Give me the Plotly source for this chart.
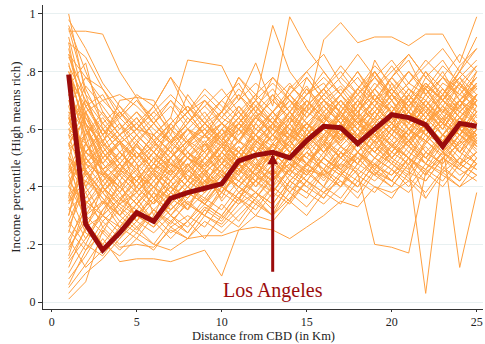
import plotly.graph_objects as go

distance_km = list(range(1, 26))

los_angeles = [0.79, 0.27, 0.18, 0.24, 0.31, 0.28, 0.36, 0.38, 0.395, 0.41, 0.49, 0.51, 0.52,
               0.50, 0.56, 0.61, 0.605, 0.55, 0.60, 0.65, 0.64, 0.615, 0.54, 0.62, 0.61]

other_cities = [
    [0.94,0.94,0.93,0.80,0.71,0.62,0.55,0.60,0.52,0.58,0.62,0.55,0.60,0.66,0.58,0.63,0.70,0.62,0.66,0.72,0.64,0.68,0.60,0.70,0.66],
    [1.00,0.72,0.55,0.48,0.42,0.50,0.44,0.52,0.47,0.55,0.50,0.58,0.52,0.60,0.55,0.62,0.57,0.65,0.58,0.63,0.70,0.62,0.67,0.60,0.72],
    [0.01,0.07,0.25,0.19,0.20,0.19,0.25,0.22,0.23,0.23,0.25,0.26,0.25,0.22,0.26,0.30,0.35,0.33,0.40,0.38,0.42,0.36,0.45,0.40,0.44],
    [0.05,0.13,0.22,0.14,0.15,0.15,0.14,0.16,0.18,0.09,0.25,0.30,0.28,0.35,0.30,0.38,0.42,0.36,0.45,0.40,0.48,0.42,0.50,0.46,0.52],
    [0.62,0.70,0.58,0.65,0.72,0.68,0.78,0.70,0.62,0.66,0.78,0.70,0.96,0.80,0.72,0.76,0.68,0.74,0.80,0.70,0.76,0.72,0.78,0.70,0.75],
    [0.80,0.60,0.50,0.55,0.60,0.58,0.64,0.84,0.83,0.82,0.70,0.83,0.68,0.99,0.88,0.80,0.72,0.78,0.70,0.74,0.68,0.75,0.70,0.78,0.72],
    [0.45,0.52,0.48,0.55,0.50,0.58,0.52,0.60,0.57,0.62,0.58,0.66,0.62,0.70,0.66,0.91,0.97,0.90,0.92,0.92,0.89,0.93,0.93,0.83,0.99],
    [0.35,0.42,0.38,0.45,0.40,0.48,0.44,0.50,0.47,0.54,0.50,0.56,0.52,0.58,0.55,0.60,0.56,0.62,0.58,0.55,0.47,0.03,0.50,0.55,0.58],
    [0.55,0.48,0.40,0.46,0.42,0.50,0.45,0.52,0.48,0.55,0.52,0.58,0.54,0.60,0.57,0.62,0.58,0.64,0.60,0.66,0.62,0.58,0.55,0.12,0.38],
    [0.40,0.35,0.30,0.36,0.32,0.40,0.36,0.42,0.38,0.45,0.42,0.48,0.44,0.50,0.46,0.44,0.48,0.45,0.20,0.19,0.17,0.45,0.50,0.46,0.52],
    [0.88,0.62,0.55,0.70,0.71,0.70,0.60,0.66,0.58,0.62,0.55,0.64,0.60,0.57,0.66,0.62,0.70,0.64,0.60,0.68,0.62,0.72,0.66,0.70,0.64],
    [0.75,0.83,0.60,0.52,0.45,0.38,0.50,0.42,0.55,0.48,0.60,0.52,0.47,0.58,0.62,0.55,0.66,0.60,0.72,0.65,0.58,0.70,0.63,0.68,0.74],
    [0.92,0.68,0.72,0.62,0.50,0.56,0.48,0.45,0.52,0.60,0.56,0.50,0.62,0.58,0.70,0.64,0.58,0.66,0.74,0.68,0.62,0.75,0.70,0.66,0.72],
    [0.20,0.35,0.30,0.42,0.28,0.35,0.40,0.32,0.45,0.38,0.50,0.44,0.40,0.52,0.47,0.55,0.50,0.58,0.52,0.48,0.56,0.60,0.54,0.62,0.58],
    [0.30,0.55,0.45,0.38,0.48,0.30,0.42,0.50,0.44,0.36,0.48,0.55,0.50,0.45,0.60,0.52,0.57,0.64,0.55,0.60,0.66,0.58,0.63,0.56,0.65],
    [0.65,0.45,0.38,0.30,0.36,0.42,0.35,0.48,0.40,0.52,0.46,0.42,0.55,0.50,0.45,0.58,0.64,0.55,0.62,0.70,0.60,0.66,0.58,0.64,0.60],
    [0.15,0.25,0.40,0.33,0.28,0.38,0.30,0.36,0.44,0.40,0.35,0.47,0.42,0.50,0.45,0.40,0.52,0.48,0.56,0.50,0.46,0.55,0.62,0.52,0.58],
    [0.58,0.40,0.52,0.45,0.55,0.48,0.62,0.55,0.50,0.60,0.66,0.58,0.52,0.64,0.70,0.62,0.57,0.68,0.63,0.76,0.66,0.60,0.72,0.67,0.80],
    [0.40,0.60,0.48,0.56,0.38,0.46,0.54,0.42,0.50,0.58,0.48,0.62,0.56,0.66,0.60,0.54,0.68,0.62,0.57,0.64,0.72,0.66,0.60,0.70,0.64],
    [0.70,0.50,0.42,0.35,0.44,0.40,0.32,0.38,0.46,0.35,0.42,0.50,0.38,0.47,0.55,0.44,0.52,0.48,0.60,0.54,0.50,0.58,0.52,0.47,0.56],
    [0.25,0.18,0.28,0.22,0.30,0.26,0.34,0.28,0.36,0.32,0.40,0.35,0.30,0.42,0.38,0.46,0.40,0.52,0.45,0.42,0.50,0.46,0.55,0.48,0.52],
    [0.85,0.72,0.65,0.58,0.62,0.55,0.50,0.58,0.64,0.56,0.68,0.62,0.72,0.66,0.60,0.70,0.75,0.68,0.80,0.72,0.66,0.78,0.84,0.75,0.70],
    [0.48,0.30,0.35,0.26,0.32,0.28,0.38,0.34,0.30,0.40,0.36,0.45,0.40,0.35,0.48,0.43,0.50,0.46,0.54,0.49,0.45,0.56,0.51,0.58,0.53],
    [0.35,0.48,0.55,0.50,0.58,0.52,0.46,0.54,0.62,0.57,0.52,0.60,0.66,0.58,0.54,0.64,0.60,0.70,0.64,0.58,0.68,0.74,0.65,0.60,0.70],
    [0.60,0.66,0.50,0.44,0.38,0.45,0.52,0.46,0.40,0.48,0.56,0.50,0.58,0.64,0.56,0.50,0.62,0.57,0.66,0.60,0.72,0.64,0.58,0.66,0.62],
    [0.10,0.20,0.32,0.38,0.30,0.36,0.42,0.34,0.40,0.46,0.38,0.44,0.50,0.42,0.48,0.55,0.47,0.52,0.60,0.50,0.56,0.48,0.58,0.52,0.62],
    [0.72,0.58,0.64,0.56,0.62,0.68,0.58,0.72,0.64,0.70,0.76,0.66,0.72,0.62,0.78,0.70,0.64,0.74,0.68,0.78,0.84,0.72,0.66,0.76,0.82],
    [0.52,0.36,0.44,0.40,0.34,0.28,0.36,0.32,0.42,0.38,0.46,0.40,0.48,0.44,0.52,0.48,0.44,0.50,0.56,0.62,0.54,0.50,0.58,0.64,0.55],
    [0.96,0.80,0.66,0.58,0.52,0.46,0.55,0.50,0.44,0.52,0.47,0.56,0.50,0.58,0.53,0.60,0.65,0.58,0.52,0.60,0.66,0.62,0.70,0.64,0.60],
    [0.28,0.42,0.36,0.30,0.40,0.34,0.46,0.52,0.45,0.50,0.44,0.55,0.62,0.52,0.58,0.65,0.56,0.62,0.58,0.66,0.60,0.68,0.63,0.74,0.66],
    [0.45,0.55,0.62,0.68,0.60,0.54,0.60,0.66,0.58,0.52,0.62,0.68,0.60,0.75,0.70,0.64,0.72,0.80,0.70,0.66,0.74,0.68,0.76,0.72,0.80],
    [0.18,0.30,0.24,0.35,0.42,0.36,0.30,0.38,0.34,0.42,0.48,0.40,0.46,0.38,0.44,0.50,0.45,0.40,0.48,0.42,0.50,0.45,0.40,0.48,0.44],
    [0.66,0.52,0.46,0.50,0.44,0.52,0.58,0.50,0.55,0.46,0.52,0.58,0.64,0.56,0.62,0.57,0.64,0.70,0.62,0.56,0.64,0.58,0.66,0.72,0.68],
    [0.82,0.70,0.58,0.48,0.55,0.62,0.56,0.50,0.58,0.54,0.60,0.56,0.52,0.62,0.68,0.74,0.65,0.60,0.68,0.62,0.70,0.64,0.72,0.78,0.68],
    [0.38,0.24,0.20,0.28,0.24,0.32,0.26,0.22,0.30,0.27,0.34,0.38,0.32,0.40,0.36,0.45,0.52,0.44,0.50,0.46,0.42,0.52,0.48,0.56,0.50],
    [0.55,0.64,0.56,0.62,0.54,0.48,0.56,0.62,0.70,0.62,0.56,0.64,0.58,0.66,0.74,0.65,0.60,0.68,0.76,0.70,0.64,0.72,0.80,0.70,0.76],
    [0.42,0.50,0.42,0.48,0.55,0.45,0.40,0.47,0.53,0.60,0.52,0.46,0.55,0.62,0.54,0.60,0.66,0.57,0.63,0.58,0.66,0.60,0.54,0.62,0.57],
    [0.08,0.16,0.26,0.32,0.26,0.20,0.28,0.24,0.32,0.28,0.36,0.30,0.38,0.34,0.42,0.36,0.44,0.40,0.48,0.42,0.38,0.46,0.52,0.46,0.42],
    [0.76,0.55,0.48,0.42,0.36,0.44,0.38,0.46,0.52,0.44,0.40,0.48,0.55,0.50,0.44,0.52,0.58,0.52,0.47,0.55,0.50,0.60,0.54,0.48,0.57],
    [0.50,0.45,0.38,0.44,0.50,0.58,0.52,0.47,0.55,0.62,0.56,0.65,0.58,0.52,0.60,0.68,0.62,0.56,0.64,0.70,0.62,0.67,0.60,0.68,0.75],
    [0.32,0.38,0.45,0.40,0.34,0.42,0.48,0.44,0.38,0.46,0.54,0.47,0.42,0.50,0.58,0.52,0.46,0.55,0.62,0.54,0.60,0.55,0.62,0.58,0.66],
    [0.62,0.75,0.68,0.60,0.66,0.58,0.52,0.60,0.55,0.62,0.68,0.60,0.66,0.72,0.64,0.70,0.62,0.68,0.74,0.66,0.72,0.80,0.70,0.76,0.68],
    [0.22,0.12,0.18,0.26,0.22,0.30,0.24,0.28,0.22,0.30,0.26,0.34,0.30,0.38,0.33,0.40,0.36,0.44,0.40,0.36,0.45,0.42,0.50,0.44,0.48],
    [0.90,0.60,0.44,0.52,0.46,0.40,0.48,0.42,0.50,0.45,0.52,0.47,0.55,0.62,0.54,0.60,0.55,0.63,0.58,0.52,0.60,0.56,0.64,0.58,0.63],
    [0.44,0.28,0.34,0.45,0.52,0.46,0.42,0.50,0.46,0.40,0.48,0.54,0.49,0.44,0.52,0.58,0.50,0.55,0.50,0.58,0.54,0.62,0.56,0.50,0.60],
    [0.58,0.52,0.58,0.64,0.70,0.62,0.68,0.60,0.66,0.58,0.64,0.70,0.62,0.68,0.75,0.66,0.72,0.64,0.70,0.78,0.72,0.66,0.74,0.68,0.76],
    [0.12,0.26,0.35,0.30,0.25,0.32,0.28,0.34,0.30,0.26,0.32,0.38,0.34,0.42,0.38,0.34,0.40,0.46,0.42,0.48,0.43,0.38,0.46,0.42,0.50],
    [0.68,0.48,0.54,0.46,0.40,0.48,0.44,0.38,0.45,0.50,0.45,0.52,0.58,0.52,0.48,0.55,0.62,0.57,0.52,0.60,0.66,0.58,0.52,0.60,0.55],
    [0.36,0.66,0.52,0.58,0.64,0.56,0.50,0.56,0.62,0.55,0.60,0.66,0.58,0.54,0.62,0.68,0.62,0.56,0.64,0.72,0.64,0.70,0.62,0.58,0.66],
    [0.26,0.40,0.30,0.24,0.30,0.38,0.34,0.40,0.36,0.44,0.40,0.36,0.43,0.48,0.44,0.50,0.45,0.52,0.47,0.44,0.52,0.48,0.45,0.50,0.46],
    [0.50,0.40,0.46,0.38,0.44,0.36,0.42,0.48,0.42,0.38,0.45,0.50,0.44,0.48,0.42,0.50,0.46,0.52,0.48,0.54,0.50,0.36,None,None,None],
    [0.80,0.66,0.70,0.64,0.58,0.64,0.70,0.62,0.68,0.74,0.66,0.72,0.78,0.70,0.64,0.72,0.78,0.72,0.66,0.74,0.80,0.72,0.78,0.74,0.82],
    [0.46,0.58,0.40,0.34,0.40,0.46,0.40,0.45,0.50,0.56,0.50,0.44,0.52,0.46,0.54,0.60,0.54,0.48,0.56,0.62,0.56,0.64,0.58,0.55,0.62],
    [0.33,0.22,0.32,0.40,0.46,0.40,0.35,0.42,0.38,0.44,0.50,0.44,0.38,0.46,0.52,0.46,0.54,0.50,0.44,0.52,0.58,0.50,0.56,0.60,0.54],
    [0.70,0.62,0.54,0.60,0.66,0.60,0.55,0.64,0.58,0.66,0.72,0.64,0.70,0.64,0.60,0.66,0.72,0.80,0.72,0.66,0.74,0.68,0.62,0.70,0.78],
    [0.55,0.34,0.28,0.34,0.30,0.26,0.32,0.38,0.34,0.30,0.38,0.42,0.36,0.44,0.40,0.46,0.42,0.38,0.46,0.42,0.50,0.44,0.52,0.48,0.44],
    [0.95,0.74,0.62,0.56,0.50,0.58,0.64,0.56,0.60,0.54,0.62,0.58,0.64,0.70,0.62,0.68,0.74,0.66,0.72,0.66,0.60,0.68,0.74,0.66,0.72],
    [0.16,0.34,0.42,0.48,0.42,0.50,0.45,0.40,0.48,0.54,0.48,0.56,0.50,0.55,0.62,0.56,0.50,0.58,0.64,0.58,0.66,0.60,0.55,0.64,0.70],
    [0.64,0.44,0.50,0.56,0.48,0.42,0.50,0.56,0.52,0.58,0.64,0.56,0.62,0.56,0.68,0.62,0.56,0.64,0.70,0.62,0.58,0.66,0.72,0.64,0.58],
    [0.03,0.10,0.15,0.22,0.28,0.24,0.30,0.26,0.33,0.29,0.36,0.32,0.40,0.35,0.42,0.38,0.45,0.40,0.48,0.44,0.50,0.46,0.42,0.50,0.46],
    [0.60,0.48,0.44,0.50,0.56,0.62,0.55,0.62,0.70,0.64,0.72,0.66,0.78,0.72,0.66,0.74,0.82,0.75,0.70,0.78,0.86,0.78,0.72,0.80,0.88],
    [0.40,0.52,0.60,0.55,0.48,0.55,0.62,0.68,0.60,0.66,0.74,0.68,0.62,0.72,0.80,0.86,0.76,0.70,0.78,0.84,0.76,0.82,0.88,0.80,0.74],
    [0.78,0.62,0.46,0.40,0.46,0.52,0.47,0.55,0.60,0.55,0.50,0.58,0.66,0.60,0.55,0.62,0.70,0.64,0.84,0.74,0.68,0.76,0.70,0.80,0.92],
    [0.24,0.46,0.38,0.46,0.52,0.44,0.50,0.56,0.48,0.54,0.46,0.52,0.58,0.66,0.74,0.68,0.62,0.70,0.64,0.72,0.80,0.74,0.66,0.62,0.72],
    [0.58,0.70,0.62,0.55,0.60,0.68,0.78,0.66,0.72,0.66,0.78,0.72,0.66,0.74,0.80,0.72,0.78,0.86,0.78,0.72,0.80,0.74,0.82,0.76,0.70],
    [0.86,0.78,0.70,0.72,0.68,0.62,0.70,0.64,0.58,0.66,0.60,0.68,0.74,0.66,0.72,0.80,0.72,0.66,0.74,0.82,0.74,0.70,0.78,0.86,0.80],
    [0.57,0.62,0.48,0.42,0.50,0.44,0.38,0.46,0.41,0.50,0.56,0.62,0.55,0.50,0.58,0.66,0.60,0.54,0.62,0.68,0.60,0.56,0.64,0.70,0.62],
    [0.83,0.56,0.40,0.30,0.36,0.28,0.34,0.40,0.35,0.42,0.48,0.42,0.50,0.56,0.48,0.54,0.60,0.52,0.58,0.64,0.56,0.62,0.68,0.60,0.55],
    [0.47,0.38,0.26,0.20,0.26,0.32,0.27,0.35,0.30,0.38,0.34,0.42,0.46,0.40,0.48,0.54,0.46,0.52,0.58,0.50,0.56,0.62,0.54,0.60,0.66],
    [0.68,0.78,0.74,0.66,0.58,0.52,0.60,0.55,0.62,0.70,0.64,0.58,0.66,0.72,0.78,0.70,0.64,0.72,0.80,0.72,0.68,0.76,0.70,0.78,0.84],
    [0.34,0.46,0.52,0.44,0.38,0.45,0.36,0.42,0.48,0.43,0.52,0.58,0.50,0.56,0.50,0.58,0.64,0.58,0.52,0.60,0.55,0.62,0.68,0.62,0.56],
    [0.19,0.28,0.20,0.16,0.22,0.18,0.26,0.30,0.26,0.34,0.28,0.36,0.44,0.38,0.46,0.40,0.48,0.55,0.46,0.52,0.48,0.56,0.50,0.58,0.54],
    [0.62,0.52,0.60,0.52,0.46,0.54,0.60,0.52,0.58,0.64,0.60,0.68,0.62,0.56,0.64,0.70,0.66,0.74,0.68,0.62,0.70,0.76,0.70,0.64,0.72],
    [0.50,0.66,0.56,0.48,0.42,0.36,0.44,0.50,0.56,0.48,0.44,0.52,0.60,0.54,0.62,0.56,0.50,0.58,0.66,0.60,0.54,0.62,0.70,0.64,0.58],
    [0.74,0.46,0.34,0.40,0.34,0.40,0.46,0.40,0.34,0.42,0.48,0.44,0.52,0.46,0.42,0.50,0.56,0.62,0.55,0.50,0.58,0.64,0.58,0.52,0.60],
    [0.28,0.20,0.16,0.24,0.30,0.36,0.30,0.24,0.32,0.38,0.44,0.38,0.34,0.42,0.48,0.44,0.40,0.48,0.54,0.48,0.44,0.52,0.58,0.52,0.48],
    [0.90,0.85,0.74,0.64,0.70,0.64,0.56,0.62,0.68,0.62,0.56,0.64,0.70,0.76,0.68,0.74,0.80,0.72,0.78,0.70,0.76,0.84,0.78,0.72,0.78],
    [0.40,0.30,0.40,0.48,0.40,0.34,0.40,0.36,0.42,0.48,0.42,0.38,0.45,0.52,0.48,0.42,0.50,0.56,0.50,0.46,0.54,0.48,0.56,0.62,0.54],
    [0.53,0.58,0.66,0.58,0.64,0.56,0.62,0.68,0.62,0.56,0.64,0.72,0.66,0.60,0.68,0.74,0.68,0.62,0.70,0.78,0.70,0.64,0.72,0.80,0.74],
    [0.14,0.22,0.30,0.26,0.34,0.28,0.22,0.28,0.34,0.30,0.38,0.34,0.40,0.46,0.40,0.36,0.44,0.50,0.44,0.40,0.48,0.54,0.47,0.42,0.50],
    [0.64,0.50,0.44,0.36,0.42,0.48,0.42,0.48,0.42,0.48,0.54,0.48,0.44,0.52,0.58,0.52,0.60,0.66,0.58,0.52,0.60,0.56,0.64,0.58,0.66],
    [0.78,0.68,0.58,0.66,0.60,0.66,0.72,0.66,0.74,0.68,0.62,0.70,0.76,0.70,0.64,0.72,0.66,0.74,0.82,0.76,0.70,0.80,0.74,0.68,0.76],
    [0.42,0.34,0.40,0.34,0.38,0.32,0.38,0.44,0.40,0.46,0.40,0.46,0.52,0.46,0.54,0.48,0.44,0.52,0.46,0.54,0.60,0.52,0.48,0.56,0.62],
    [0.30,0.50,0.56,0.62,0.56,0.50,0.56,0.50,0.46,0.54,0.60,0.54,0.48,0.56,0.62,0.56,0.64,0.58,0.66,0.60,0.56,0.64,0.58,0.66,0.72],
    [0.86,0.64,0.52,0.46,0.54,0.48,0.54,0.60,0.54,0.60,0.66,0.60,0.56,0.62,0.70,0.64,0.58,0.66,0.72,0.66,0.74,0.68,0.62,0.70,0.76],
    [0.06,0.18,0.24,0.18,0.24,0.20,0.18,0.22,0.28,0.24,0.30,0.36,0.30,0.36,0.42,0.38,0.34,0.42,0.38,0.46,0.40,0.48,0.44,0.40,0.48],
    [0.60,0.55,0.46,0.52,0.58,0.52,0.46,0.52,0.46,0.52,0.58,0.64,0.58,0.52,0.58,0.64,0.70,0.62,0.68,0.62,0.58,0.66,0.60,0.68,0.62],
    [0.46,0.42,0.50,0.56,0.50,0.54,0.48,0.54,0.58,0.50,0.56,0.52,0.58,0.64,0.58,0.52,0.60,0.66,0.60,0.54,0.62,0.70,0.64,0.58,0.68],
    [0.72,0.62,0.54,0.46,0.40,0.34,0.40,0.36,0.42,0.48,0.52,0.46,0.54,0.48,0.56,0.62,0.54,0.60,0.54,0.62,0.68,0.60,0.56,0.64,0.70],
    [0.37,0.44,0.36,0.28,0.34,0.40,0.46,0.40,0.46,0.40,0.46,0.52,0.48,0.54,0.50,0.46,0.54,0.60,0.56,0.62,0.56,0.50,0.58,0.54,0.60],
    [0.54,0.68,0.60,0.66,0.60,0.66,0.60,0.66,0.70,0.64,0.70,0.76,0.70,0.64,0.72,0.78,0.72,0.66,0.74,0.80,0.86,0.78,0.72,0.82,0.88],
    [0.22,0.32,0.38,0.32,0.38,0.44,0.38,0.32,0.38,0.44,0.40,0.46,0.42,0.48,0.44,0.50,0.46,0.42,0.50,0.56,0.50,0.44,0.52,0.58,0.52],
    [0.66,0.60,0.52,0.58,0.52,0.46,0.50,0.56,0.62,0.56,0.62,0.56,0.62,0.68,0.62,0.58,0.66,0.60,0.68,0.74,0.66,0.60,0.68,0.62,0.70],
    [0.50,0.26,0.30,0.36,0.30,0.36,0.32,0.38,0.34,0.40,0.36,0.42,0.38,0.46,0.52,0.46,0.40,0.48,0.44,0.50,0.56,0.50,0.46,0.54,0.48],
    [0.98,0.88,0.76,0.68,0.62,0.56,0.62,0.68,0.62,0.56,0.62,0.70,0.64,0.58,0.66,0.72,0.66,0.72,0.78,0.72,0.66,0.74,0.68,0.76,0.70],
    [0.44,0.52,0.46,0.52,0.46,0.52,0.46,0.40,0.46,0.52,0.46,0.40,0.48,0.54,0.48,0.56,0.52,0.58,0.52,0.58,0.52,0.60,0.54,0.60,0.56],
]

y_tick_vals = [0, 0.2, 0.4, 0.6, 0.8, 1]
y_tick_text = ["0", ".2", ".4", ".6", ".8", "1"]
x_tick_vals = [0, 5, 10, 15, 20, 25]

FONT = "Liberation Serif"
ORANGE = "#ffa040"
DARKRED = "#9b0c0c"

fig = go.Figure()
for series in other_cities:
    fig.add_trace(go.Scatter(x=distance_km, y=series, mode="lines",
                             line=dict(color=ORANGE, width=1), connectgaps=False,
                             hoverinfo="skip", showlegend=False))

fig.add_trace(go.Scatter(x=distance_km, y=los_angeles, mode="lines",
                         line=dict(color=DARKRED, width=5), showlegend=False))

fig.add_annotation(x=13, y=0.515, ax=13, ay=0.10, xref="x", yref="y", axref="x", ayref="y",
                   showarrow=True, arrowhead=2, arrowsize=0.7, arrowwidth=3, arrowcolor=DARKRED,
                   text="")
fig.add_annotation(x=13, y=0.04, xref="x", yref="y", text="Los Angeles", showarrow=False,
                   font=dict(family=FONT, size=20, color=DARKRED))

fig.add_annotation(x=0.5, y=-0.0872, xref="paper", yref="paper", yanchor="middle",
                   text="Distance from CBD (in Km)", showarrow=False,
                   font=dict(family=FONT, size=12.5, color="#222"))
fig.add_annotation(x=-0.064, y=0.5, xref="paper", yref="paper", xanchor="center",
                   yanchor="middle", textangle=-90,
                   text="Income percentile (High means rich)", showarrow=False,
                   font=dict(family=FONT, size=13, color="#222"))

fig.update_layout(
    width=485, height=344,
    margin=dict(l=43, r=2, t=5, b=35),
    paper_bgcolor="white", plot_bgcolor="white",
    font=dict(family=FONT, size=12, color="#222"),
    xaxis=dict(range=[-0.51, 25.37], tickvals=x_tick_vals, ticks="outside", ticklen=2,
               tickcolor="#333", showline=True, linecolor="#333", linewidth=1,
               showgrid=False, zeroline=False, tickfont=dict(size=12)),
    yaxis=dict(range=[-0.0243, 1.031], tickvals=y_tick_vals, ticktext=y_tick_text,
               ticks="outside", ticklen=4, tickcolor="#333", showline=True,
               linecolor="#333", linewidth=1, showgrid=True, gridcolor="#e8f0f1",
               gridwidth=1, zeroline=False, tickfont=dict(size=12)),
)

fig.write_html("out.html")
